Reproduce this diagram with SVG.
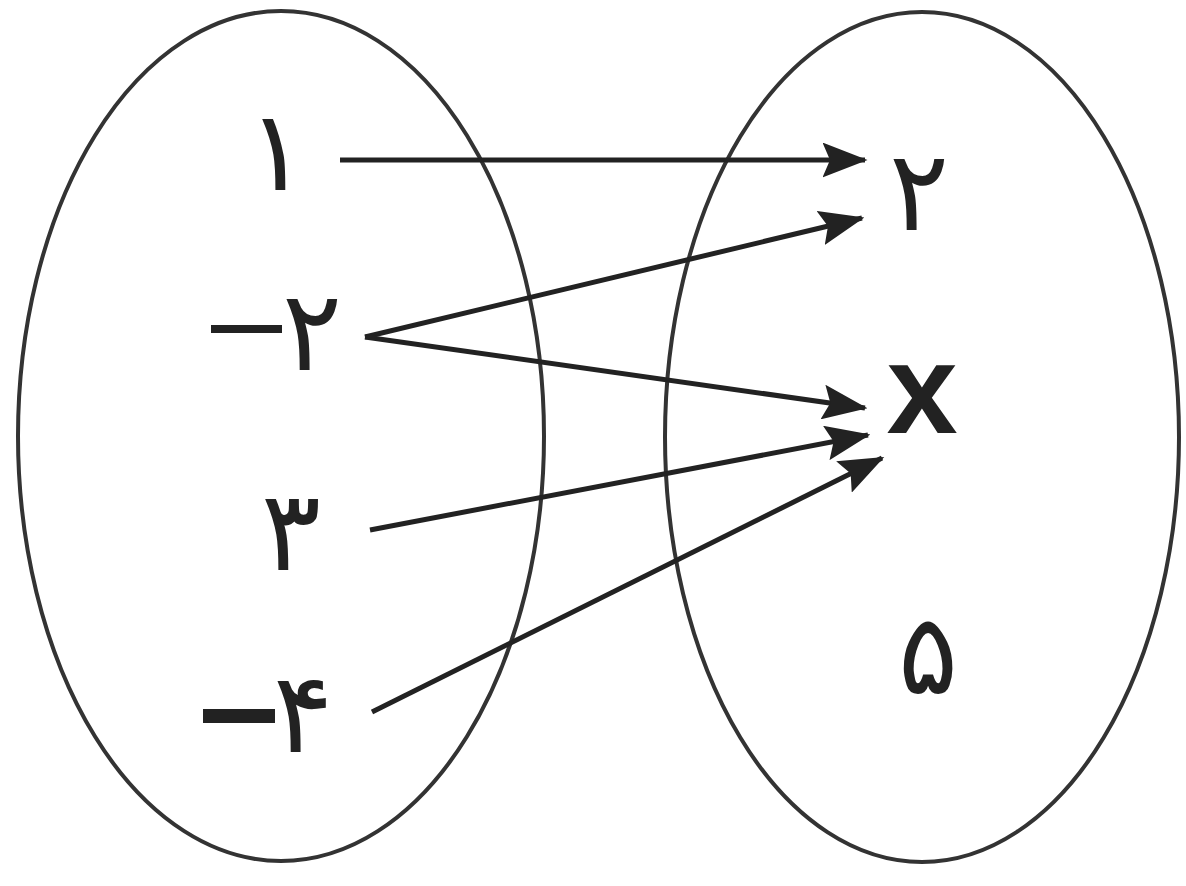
<svg xmlns="http://www.w3.org/2000/svg" width="1186" height="886" viewBox="0 0 1186 886">
<style>
.set{fill:none;stroke:#333;stroke-width:4}
.lbl{font-family:"DejaVu Sans","Noto Sans",sans-serif;font-size:112px;font-weight:normal;fill:#222;text-anchor:middle}
.dash{stroke:#222;stroke-width:8}
.arr{stroke:#222;stroke-width:5;fill:none;marker-end:url(#ah)}
</style>
<defs>
<marker id="ah" markerWidth="9" markerHeight="7" refX="8.5" refY="3.5" orient="auto" markerUnits="strokeWidth">
<path d="M0,0 L9,3.5 L0,7 L1.5,3.5 z" fill="#222"/>
</marker>
</defs>
<rect width="1186" height="886" fill="#fff"/>
<g id="setA"><ellipse class="set" cx="281" cy="436" rx="263" ry="425"/></g>
<g id="setB"><ellipse class="set" cx="922" cy="437" rx="257" ry="425"/></g>
<g id="a1"><text class="lbl" x="277" y="190">۱</text></g>
<g id="am2"><line class="dash" x1="211" y1="329" x2="282" y2="329"/><text class="lbl" x="312" y="370">۲</text></g>
<g id="a3"><text class="lbl" x="291" y="570">۳</text></g>
<g id="am4"><line class="dash" x1="203" y1="716" x2="275" y2="716" style="stroke-width:14"/><text class="lbl" x="303" y="752">۴</text></g>
<g id="b2"><text class="lbl" x="919" y="230">۲</text></g>
<g id="bx"><text class="lbl" x="922" y="433" style="font-family:'Liberation Sans',sans-serif;font-size:128px;font-weight:bold">x</text></g>
<g id="b5"><text class="lbl" x="928" y="693">۵</text></g>
<g id="connectors">
<line class="arr" x1="340" y1="160" x2="865" y2="160"/>
<line class="arr" x1="365" y1="337" x2="862" y2="218"/>
<line class="arr" x1="365" y1="337" x2="865" y2="408"/>
<line class="arr" x1="370" y1="530" x2="868" y2="435"/>
<line class="arr" x1="372" y1="712" x2="882" y2="458"/>
</g>
</svg>
